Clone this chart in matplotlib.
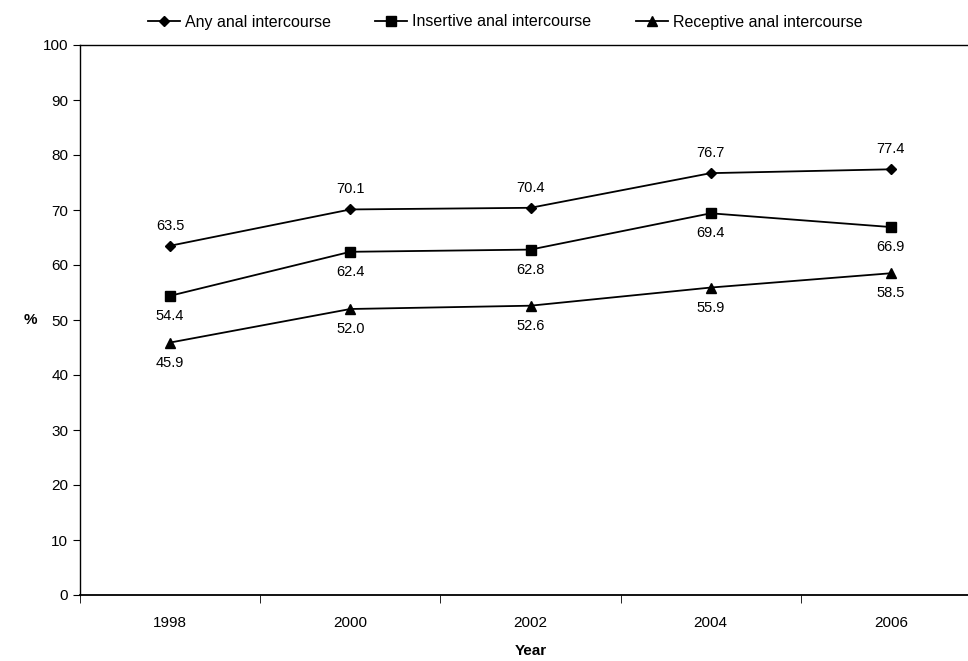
import matplotlib.pyplot as plt

plt.rcParams['font.family'] = ['Liberation Sans', 'DejaVu Sans']

years = ['1998', '2000', '2002', '2004', '2006']
any_ai = [63.5, 70.1, 70.4, 76.7, 77.4]
insertive_ai = [54.4, 62.4, 62.8, 69.4, 66.9]
receptive_ai = [45.9, 52.0, 52.6, 55.9, 58.5]

W, H = 968, 661
fig = plt.figure(figsize=(W / 100, H / 100), dpi=100)
# plot area runs a little past the right edge of the figure
ax = fig.add_axes([80 / W, (H - 595) / H, 901 / W, 550 / H])

x = range(len(years))
series = [
    (any_ai, 'D', 5.5, 'Any anal intercourse', 'above'),
    (insertive_ai, 's', 6.5, 'Insertive anal intercourse', 'below'),
    (receptive_ai, '^', 7, 'Receptive anal intercourse', 'below'),
]
for vals, mk, ms, name, pos in series:
    ax.plot(x, vals, color='black', lw=1.3, marker=mk, ms=ms, label=name)
    for xi, v in zip(x, vals):
        dy = 20 if pos == 'above' else -20
        ax.annotate(f'{v:.1f}', (xi, v), xytext=(0, dy), textcoords='offset pixels',
                    ha='center', va='center', fontsize=10.5)

ax.set_xlim(-0.5, 4.5)
ax.set_ylim(0, 100)
ax.set_yticks(range(0, 101, 10))
ax.set_xticks(x)
ax.set_xticklabels(years)
ax.set_xticks([i - 0.5 for i in range(0, 6)], minor=True)
ax.tick_params(axis='x', which='major', length=0, pad=15, labelsize=11)
ax.tick_params(axis='x', which='minor', length=6, direction='out')
ax.tick_params(axis='y', length=5, direction='out', labelsize=11)
for s in ax.spines.values():
    s.set_linewidth(1.0)
ax.spines['bottom'].set_linewidth(1.3)

fig.text(30 / W, 1 - 320 / H, '%', fontweight='bold', fontsize=11, ha='center', va='center')
fig.text(531 / W, 1 - 651 / H, 'Year', fontweight='bold', fontsize=11, ha='center', va='center')

fig.legend(loc='center', bbox_to_anchor=(505 / W, 1 - 22 / H), ncol=3, frameon=False,
           fontsize=11.5, handlelength=2.0, handletextpad=0.3, columnspacing=2.8)

fig.savefig('out.png', dpi=100)
